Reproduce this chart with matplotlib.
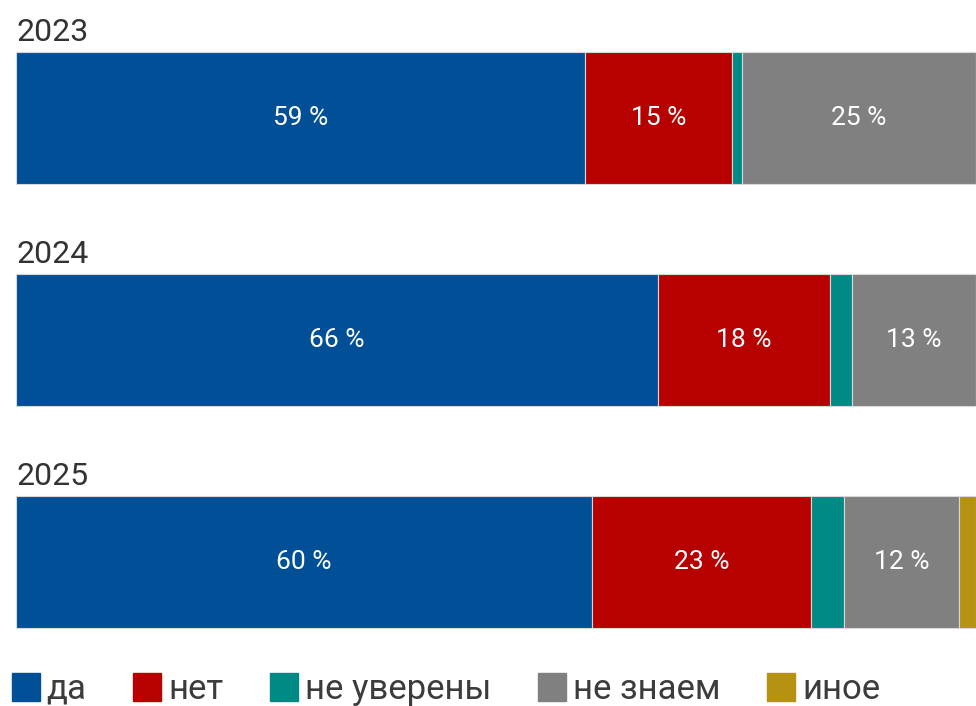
import matplotlib
matplotlib.use("Agg")
import matplotlib.pyplot as plt
from matplotlib.lines import Line2D
import numpy as np

plt.rcParams['font.family'] = ['Roboto', 'Noto Sans', 'DejaVu Sans']

years = ['2023', '2024', '2025']
categories = ['да', 'нет', 'не уверены', 'не знаем', 'иное']
colors = ['#004f97', '#b70000', '#008a85', '#808080', '#b59212']

# shares per year, in the category order above
da = [59.3, 66.9, 60.0]
net = [15.25, 17.9, 22.8]
ne_uvereny = [1.07, 2.3, 3.4]
ne_znaem = [24.4, 12.9, 12.05]
inoe = [0.0, 0.0, 1.75]

# printed labels (empty = no label)
lbl_da = ['59 %', '66 %', '60 %']
lbl_net = ['15 %', '18 %', '23 %']
lbl_ne_uvereny = ['', '', '']
lbl_ne_znaem = ['25 %', '13 %', '12 %']
lbl_inoe = ['', '', '']

series = [da, net, ne_uvereny, ne_znaem, inoe]
labels = [lbl_da, lbl_net, lbl_ne_uvereny, lbl_ne_znaem, lbl_inoe]

W, H = 976, 706
fig = plt.figure(figsize=(W / 100, H / 100), dpi=100)
ax = fig.add_axes([16 / W, 33 / H, 1 - 16 / W, 666 / H])

bar_h = 132 / 222
y = np.arange(len(years))
left = np.zeros(len(years))
for vals, lbls, col in zip(series, labels, colors):
    vals = np.array(vals)
    ax.barh(y, vals, left=left, height=bar_h, color=col,
            edgecolor='#d8d8d8', linewidth=0.8)
    for i in range(len(years)):
        if lbls[i]:
            ax.text(left[i] + vals[i] / 2, y[i], lbls[i], color='white',
                    ha='center', va='center', fontsize=19)
    left += vals

for i, yr in enumerate(years):
    ax.text(0, i - bar_h / 2 - 0.05, yr, ha='left', va='baseline',
            fontsize=23, color='#333333')

ax.set_xlim(0, 100)
ax.set_ylim(2.5, -0.5)
ax.axis('off')

handles = [Line2D([], [], marker='s', ls='', markersize=20, color=c)
           for c in colors]
fig.legend(handles, categories, loc='lower left', bbox_to_anchor=(12 / W, 0.0),
           ncol=5, frameon=False, fontsize=25, handletextpad=0.2,
           columnspacing=1.35, handlelength=0.8, labelcolor='#3c3c3c',
           borderaxespad=0, borderpad=0)

fig.savefig('out.png', dpi=100)
